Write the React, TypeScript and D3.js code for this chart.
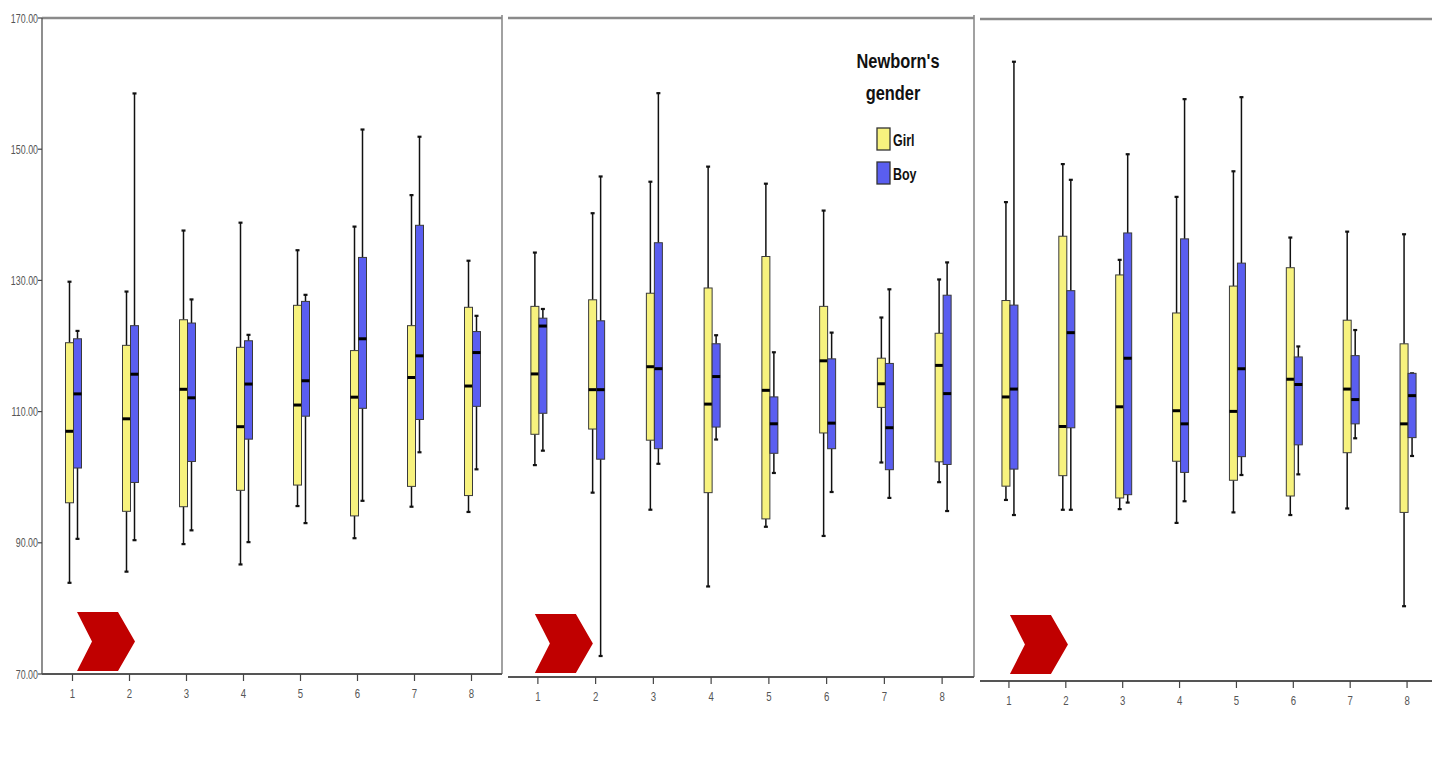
import React from "react";
import * as d3 from "d3";

// Gestational-week groups shown on every panel
const groups = ["1", "2", "3", "4", "5", "6", "7", "8"];
const yTicks = [70, 90, 110, 130, 150, 170];
const genders = ["Girl", "Boy"];

// Five-number summaries per group: [lower whisker, Q1, median, Q3, upper whisker]
const panel1Girl = [
  [83.9, 96.1, 107.0, 120.5, 129.8],
  [85.6, 94.8, 108.9, 120.1, 128.3],
  [89.8, 95.5, 113.4, 124.0, 137.6],
  [86.7, 98.0, 107.7, 119.8, 138.8],
  [95.6, 98.8, 111.0, 126.2, 134.6],
  [90.7, 94.1, 112.2, 119.3, 138.2],
  [95.5, 98.6, 115.2, 123.1, 143.0],
  [94.7, 97.2, 113.9, 125.9, 133.0],
];
const panel1Boy = [
  [90.6, 101.4, 112.7, 121.1, 122.3],
  [90.4, 99.2, 115.7, 123.1, 158.5],
  [91.9, 102.4, 112.1, 123.5, 127.1],
  [90.1, 105.8, 114.2, 120.8, 121.7],
  [93.0, 109.3, 114.7, 126.8, 127.8],
  [96.4, 110.5, 121.1, 133.5, 153.0],
  [103.8, 108.8, 118.5, 138.4, 151.9],
  [101.2, 110.8, 119.0, 122.2, 124.6],
];
const panel2Girl = [
  [102.3, 107.0, 116.2, 126.5, 134.7],
  [98.1, 107.8, 113.8, 127.5, 140.7],
  [95.5, 106.1, 117.3, 128.5, 145.5],
  [83.8, 98.1, 111.6, 129.3, 147.8],
  [92.9, 94.1, 113.7, 134.1, 145.2],
  [91.5, 107.2, 118.2, 126.5, 141.1],
  [102.7, 111.1, 114.7, 118.6, 124.8],
  [99.7, 102.8, 117.5, 122.4, 130.6],
];
const panel2Boy = [
  [104.5, 110.2, 123.5, 124.7, 126.1],
  [73.2, 103.2, 113.8, 124.3, 146.3],
  [102.5, 104.8, 117.0, 136.2, 159.0],
  [106.2, 108.1, 115.8, 120.8, 122.1],
  [101.1, 104.1, 108.6, 112.7, 119.5],
  [98.2, 104.8, 108.7, 118.5, 122.5],
  [97.3, 101.6, 108.0, 117.8, 129.1],
  [95.3, 102.4, 113.2, 128.2, 133.2],
];
const panel3Girl = [
  [97.6, 99.7, 113.3, 128.0, 143.0],
  [96.1, 101.3, 108.8, 137.8, 148.8],
  [96.2, 97.9, 111.8, 131.9, 134.2],
  [94.1, 103.5, 111.2, 126.1, 143.8],
  [95.7, 100.6, 111.1, 130.2, 147.7],
  [95.3, 98.2, 116.0, 133.0, 137.6],
  [96.3, 104.8, 114.5, 125.0, 138.5],
  [81.4, 95.7, 109.2, 121.4, 138.1],
];
const panel3Boy = [
  [95.3, 102.3, 114.5, 127.3, 164.4],
  [96.1, 108.6, 123.1, 129.5, 146.4],
  [97.2, 98.4, 119.2, 138.3, 150.3],
  [97.4, 101.8, 109.2, 137.4, 158.7],
  [101.4, 104.2, 117.6, 133.7, 159.0],
  [101.5, 106.0, 115.2, 119.4, 121.0],
  [107.0, 109.2, 112.9, 119.6, 123.5],
  [104.3, 107.1, 113.5, 116.9, 116.9],
];

const GIRL_FILL = "#f7f27e";
const BOY_FILL = "#5a5ef0";
const FONT = "'Liberation Sans', Arial, sans-serif";

type Panel = {
  girl: number[][];
  boy: number[][];
  x0: number;
  x1: number;
  axisFrom: number;
  axisTo: number;
  yBottom: number;
  yTop: number;
  frameTop: number;
  leftAxis: boolean;
  rightBorder: boolean;
  chevronDx: number;
  chevronDy: number;
};

const panels: Panel[] = [
  { girl: panel1Girl, boy: panel1Boy, x0: 44, x1: 500, axisFrom: 42, axisTo: 502, yBottom: 674, yTop: 18, frameTop: 18, leftAxis: true, rightBorder: true, chevronDx: 4.5, chevronDy: 3 },
  { girl: panel2Girl, boy: panel2Boy, x0: 509, x1: 971, axisFrom: 508, axisTo: 974, yBottom: 677, yTop: 21, frameTop: 18, leftAxis: false, rightBorder: true, chevronDx: -3, chevronDy: 4 },
  { girl: panel3Girl, boy: panel3Boy, x0: 980.5, x1: 1435.5, axisFrom: 980, axisTo: 1432, yBottom: 681, yTop: 25, frameTop: 19, leftAxis: false, rightBorder: false, chevronDx: 1, chevronDy: 7 },
];

const BOX_W = 8;
const CAP_W = 4;

// Narrow text: regular face squeezed horizontally around its anchor
function NarrowText({ x, y, sx, anchor, size, fill, weight, children }: any) {
  return (
    <text
      transform={`translate(${x},${y}) scale(${sx},1)`}
      textAnchor={anchor}
      fontFamily={FONT}
      fontSize={size}
      fontWeight={weight || "normal"}
      fill={fill}
    >
      {children}
    </text>
  );
}

function BoxMark({ cx, stats, y, fill }: { cx: number; stats: number[]; y: d3.ScaleLinear<number, number>; fill: string }) {
  const [lo, q1, med, q3, hi] = stats;
  return (
    <g>
      <line x1={cx} x2={cx} y1={y(hi)} y2={y(q3)} stroke="#111" strokeWidth={1.5} />
      <line x1={cx} x2={cx} y1={y(q1)} y2={y(lo)} stroke="#111" strokeWidth={1.5} />
      <line x1={cx - CAP_W / 2} x2={cx + CAP_W / 2} y1={y(hi)} y2={y(hi)} stroke="#111" strokeWidth={2.2} />
      <line x1={cx - CAP_W / 2} x2={cx + CAP_W / 2} y1={y(lo)} y2={y(lo)} stroke="#111" strokeWidth={2.2} />
      <rect x={cx - BOX_W / 2} y={y(q3)} width={BOX_W} height={Math.max(1, y(q1) - y(q3))} fill={fill} stroke="#3a3a3a" strokeWidth={1} />
      <line x1={cx - BOX_W / 2} x2={cx + BOX_W / 2} y1={y(med)} y2={y(med)} stroke="#000" strokeWidth={3} />
    </g>
  );
}

function Chevron({ left, bottom }: { left: number; bottom: number }) {
  const w = 58;
  const h = 59;
  const notch = 15;
  const back = 41;
  const d = d3.path();
  d.moveTo(left, bottom - h);
  d.lineTo(left + back, bottom - h);
  d.lineTo(left + w, bottom - h / 2);
  d.lineTo(left + back, bottom);
  d.lineTo(left, bottom);
  d.lineTo(left + notch, bottom - h / 2);
  d.closePath();
  return <path d={d.toString()} fill="#c00000" />;
}

function PanelView({ p }: { p: Panel }) {
  const x = d3.scalePoint<string>().domain(groups).range([p.x0, p.x1]).padding(0.5);
  const y = d3.scaleLinear().domain([70, 170]).range([p.yBottom, p.yTop]);
  const fmt = d3.format(".2f");
  return (
    <g>
      {/* frame */}
      <line x1={p.axisFrom} x2={p.axisTo} y1={p.frameTop} y2={p.frameTop} stroke="#8a8a8a" strokeWidth={2.5} />
      {p.rightBorder && (
        <line x1={p.axisTo} x2={p.axisTo} y1={p.frameTop - 3} y2={p.yBottom} stroke="#8a8a8a" strokeWidth={1.6} />
      )}
      {p.leftAxis && (
        <g>
          <line x1={p.axisFrom} x2={p.axisFrom} y1={p.frameTop} y2={p.yBottom} stroke="#444" strokeWidth={1.2} />
          {yTicks.map((t) => (
            <g key={t}>
              <line x1={p.axisFrom - 4} x2={p.axisFrom} y1={y(t)} y2={y(t)} stroke="#444" strokeWidth={1.2} />
              <NarrowText x={p.axisFrom - 4} y={y(t) + 4.5} sx={0.74} anchor="end" size={12} fill="#555">
                {fmt(t)}
              </NarrowText>
            </g>
          ))}
        </g>
      )}
      {/* x axis */}
      <line x1={p.axisFrom} x2={p.axisTo} y1={p.yBottom} y2={p.yBottom} stroke="#555" strokeWidth={2.2} />
      {groups.map((g) => (
        <g key={g}>
          <line x1={x(g)!} x2={x(g)!} y1={p.yBottom} y2={p.yBottom + 7} stroke="#444" strokeWidth={1.2} />
          <NarrowText x={x(g)!} y={p.yBottom + 24} sx={0.8} anchor="middle" size={12} fill="#555">
            {g}
          </NarrowText>
        </g>
      ))}
      <Chevron left={x("1")! + p.chevronDx} bottom={p.yBottom - p.chevronDy} />
      {groups.map((g, i) => (
        <g key={g}>
          <BoxMark cx={x(g)! + 1 - BOX_W / 2} stats={p.girl[i]} y={y} fill={GIRL_FILL} />
          <BoxMark cx={x(g)! + 1 + BOX_W / 2} stats={p.boy[i]} y={y} fill={BOY_FILL} />
        </g>
      ))}
    </g>
  );
}

function Legend() {
  const fills = [GIRL_FILL, BOY_FILL];
  return (
    <g>
      <NarrowText x={898} y={68} sx={0.78} anchor="middle" size={21} weight="bold" fill="#111">Newborn's</NarrowText>
      <NarrowText x={893} y={100} sx={0.78} anchor="middle" size={21} weight="bold" fill="#111">gender</NarrowText>
      {genders.map((gname, i) => (
        <g key={gname}>
          <rect x={877} y={128 + i * 34} width={13} height={22} fill={fills[i]} stroke="#333" strokeWidth={1.3} />
          <NarrowText x={893} y={146 + i * 34} sx={0.78} anchor="start" size={16} weight="bold" fill="#111">
            {gname}
          </NarrowText>
        </g>
      ))}
    </g>
  );
}

export default function App() {
  return (
    <svg width={1432} height={760} style={{ position: "absolute", left: 0, top: 0, background: "#fff" }}>
      <rect width={1432} height={760} fill="#fff" />
      {panels.map((p, i) => (
        <PanelView key={i} p={p} />
      ))}
      <Legend />
    </svg>
  );
}
